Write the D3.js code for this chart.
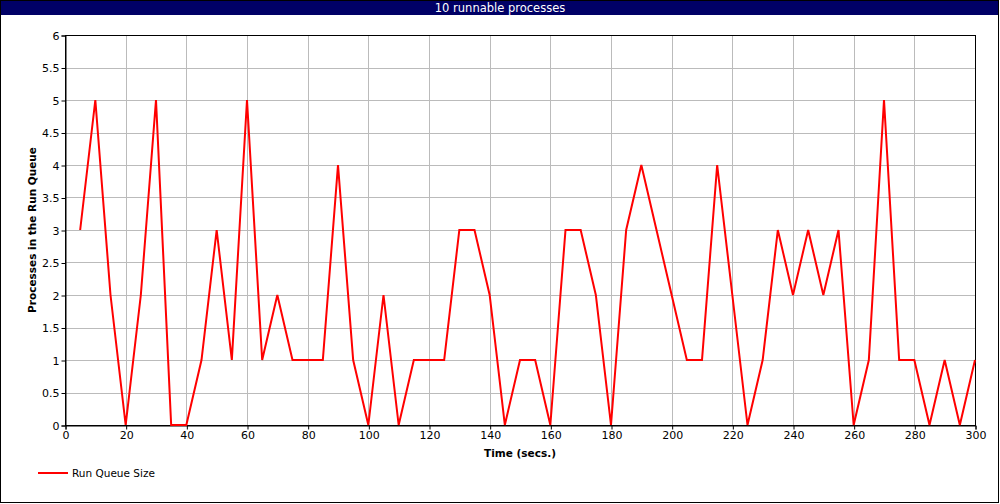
<!DOCTYPE html>
<html><head><meta charset="utf-8">
<script src="https://cdn.jsdelivr.net/npm/d3@7"></script>
<style>body{margin:0;background:#fff}svg{display:block}</style>
</head><body>
<svg id="c" width="1000" height="504"></svg>
<script>
const times = [5,10,15,20,25,30,35,40,45,50,55,60,65,70,75,80,85,90,95,100,105,110,115,120,125,130,135,140,145,150,155,160,165,170,175,180,185,190,195,200,205,210,215,220,225,230,235,240,245,250,255,260,265,270,275,280,285,290,295,300];
const runQueue = [3,5,2,0,2,5,0,0,1,3,1,5,1,2,1,1,1,4,1,0,2,0,1,1,1,3,3,2,0,1,1,0,3,3,2,0,3,4,3,2,1,1,4,2,0,1,3,2,3,2,3,0,1,5,1,1,0,1,0,1];
const xTicks = [0,20,40,60,80,100,120,140,160,180,200,220,240,260,280,300];
const yTicks = [0,0.5,1,1.5,2,2.5,3,3.5,4,4.5,5,5.5,6];
const title = "10 runnable processes";
const seriesName = "Run Queue Size";

const svg = d3.select("#c");
const font = "DejaVu Sans, sans-serif";
const L=65,R=975,T=35,B=425;
const x = d3.scaleLinear().domain([0,300]).range([L,R]);
const y = d3.scaleLinear().domain([0,6]).range([B,T]);

svg.append("rect").attr("x",0.5).attr("y",0.5).attr("width",998).attr("height",502).attr("fill","#fff").attr("stroke","#000");
svg.append("rect").attr("x",1).attr("y",1).attr("width",997).attr("height",14).attr("fill","#000066");
svg.append("text").attr("x",500).attr("y",12).attr("text-anchor","middle").attr("fill","#fff")
  .attr("font-family",font).attr("font-size",11.5).text(title);

// grid
svg.append("g").selectAll("line").data(xTicks.slice(1,-1)).join("line")
  .attr("x1",d=>Math.round(x(d))+0.5).attr("x2",d=>Math.round(x(d))+0.5).attr("y1",T).attr("y2",B)
  .attr("stroke","#bbb");
svg.append("g").selectAll("line").data(yTicks.slice(1,-1)).join("line")
  .attr("y1",d=>Math.round(y(d))+0.5).attr("y2",d=>Math.round(y(d))+0.5).attr("x1",L).attr("x2",R)
  .attr("stroke","#bbb");

// frame
svg.append("rect").attr("x",L+0.5).attr("y",T+0.5).attr("width",R-L).attr("height",B-T)
  .attr("fill","none").attr("stroke","#000");

const xa = svg.append("g").attr("transform",`translate(0.5,${B+0.5})`)
  .call(d3.axisBottom(x).tickValues(xTicks).tickSize(4).tickPadding(2).tickFormat(d3.format("d")));
const ya = svg.append("g").attr("transform",`translate(${L+0.5},0.5)`)
  .call(d3.axisLeft(y).tickValues(yTicks).tickSize(4).tickPadding(2).tickFormat(d=>String(d)));
[xa,ya].forEach(a=>{
  a.select(".domain").attr("stroke","#000");
  a.selectAll(".tick line").attr("stroke","#000");
  a.selectAll("text").attr("font-family",font).attr("font-size",11).attr("fill","#000");
});

svg.append("text").attr("x",(L+R)/2).attr("y",457).attr("text-anchor","middle")
  .attr("font-family",font).attr("font-size",10.5).attr("font-weight","bold").text("Time (secs.)");
svg.append("text").attr("transform",`translate(36,${(T+B)/2}) rotate(-90)`).attr("text-anchor","middle")
  .attr("font-family",font).attr("font-size",10.5).attr("font-weight","bold").text("Processes in the Run Queue");

const line = d3.line().x((d,i)=>x(times[i])).y(d=>y(d));
svg.append("path").datum(runQueue).attr("d",line).attr("fill","none").attr("stroke","#ff0000")
  .attr("stroke-width",2).attr("stroke-linejoin","miter");

svg.append("line").attr("x1",38).attr("x2",68).attr("y1",473).attr("y2",473).attr("stroke","#ff0000").attr("stroke-width",2);
svg.append("text").attr("x",72).attr("y",477).attr("font-family",font).attr("font-size",10.5).text(seriesName);
</script>
</body></html>
